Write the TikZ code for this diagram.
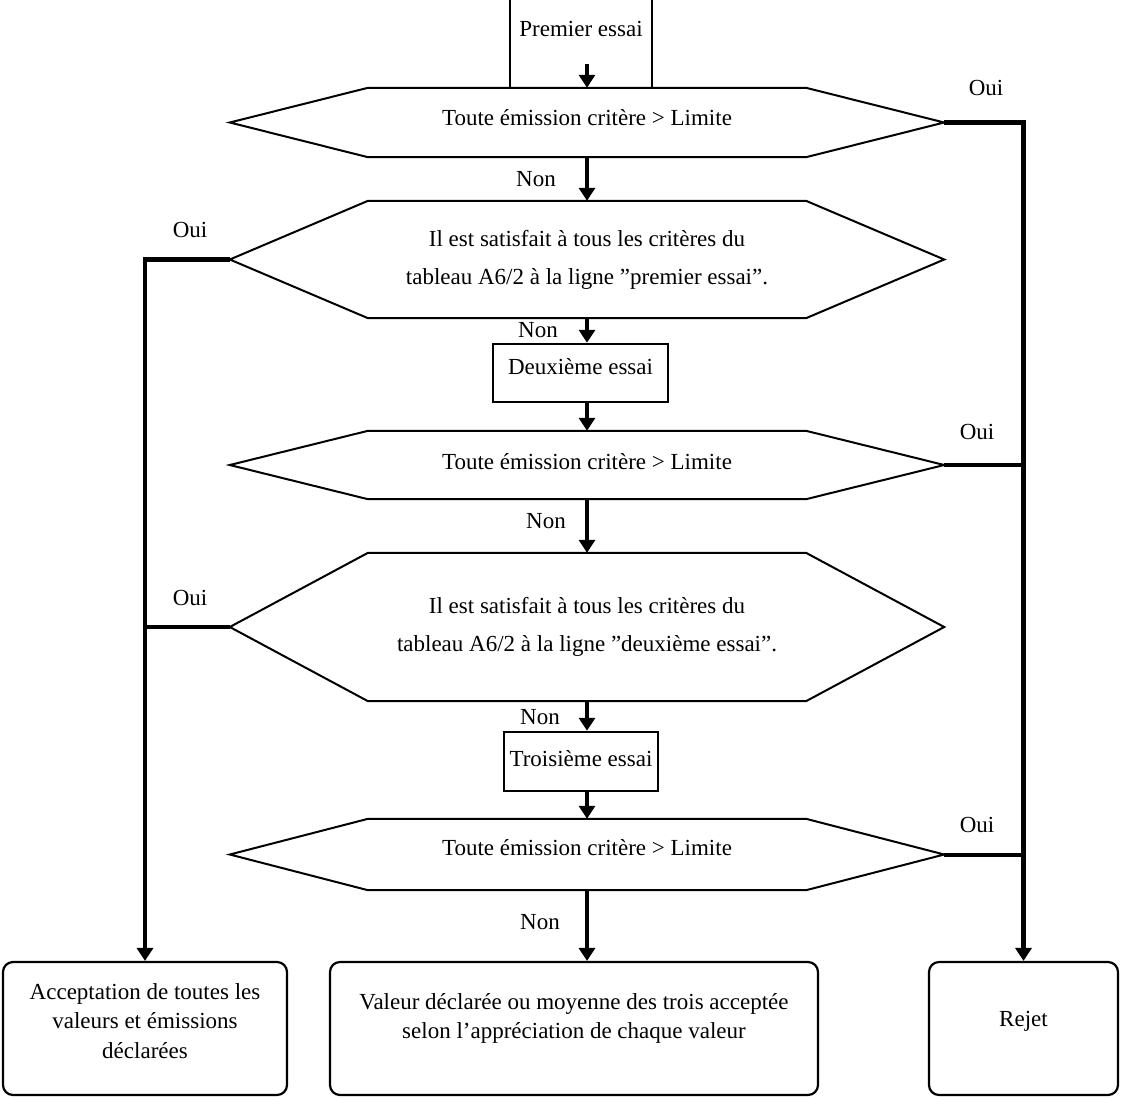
\documentclass[tikz,border=0pt]{standalone}
\usepackage{fontspec}
\setmainfont{Liberation Serif}
\usetikzlibrary{arrows.meta,calc}
\tikzset{
  x=1pt, y=-1pt,
  txt/.style={font=\fontsize{23}{38}\selectfont},
  hexbody/.style={txt, minimum width=714pt, inner sep=0pt, align=center},
  hexline/.style={line width=2pt, line join=miter},
  boxnode/.style={txt, draw, line width=2.5pt, inner xsep=0pt, inner ysep=0pt},
  endbox/.style={draw, line width=2.2pt, rounded corners=10pt, inner sep=0pt},
  endtext/.style={font=\fontsize{23}{29.5}\selectfont, align=center, inner sep=0pt},
  flow/.style={line width=4.5pt, line join=miter, -{Triangle[width=16pt,length=13pt]}},
  branch/.style={line width=4pt},
  lbl/.style={txt, inner sep=0pt},
}
\newcommand\hexa[5][]{%
  \node[hexbody, minimum height=#4pt, #1] (#2) at (#3) {#5};
  \draw[hexline] (#2.west) -- ($(#2.north)+(-219,0)$) -- ($(#2.north)+(219,0)$)
    -- (#2.east) -- ($(#2.south)+(219,0)$) -- ($(#2.south)+(-219,0)$) -- cycle;
}
\begin{document}
\begin{tikzpicture}
\useasboundingbox (0,0) rectangle (1123,1098);
\clip (0,0) rectangle (1123,1098);

% process boxes
\node[boxnode, minimum width=142pt, text height=58pt, text depth=52pt, anchor=base] (p1) at (581,36) {Premier essai};
\node[boxnode, minimum width=175pt, text height=30pt, text depth=28pt, anchor=base] (d2) at (580.5,374) {Deuxième essai};
\node[boxnode, minimum width=154pt, text height=34pt, text depth=25pt, anchor=base] (t3) at (581,766) {Troisième essai};

% decisions
\hexa[text depth=11pt]{h1}{587,122.5}{69}{Toute émission critère > Limite}
\hexa{h2}{587,259.5}{117}{Il est satisfait à tous les critères du\\tableau A6/2 à la ligne ”premier essai”.}
\hexa[text depth=8pt]{h3}{587,465}{68}{Toute émission critère > Limite}
\hexa{h4}{587,627}{148}{Il est satisfait à tous les critères du\\tableau A6/2 à la ligne ”deuxième essai”.}
\hexa[text depth=14pt]{h5}{587,854.5}{71}{Toute émission critère > Limite}

% end boxes
\node[endbox, minimum width=284pt, minimum height=133pt,
  label={[endtext, yshift=7.5pt]center:{Acceptation de toutes les\\valeurs et émissions\\déclarées}}] (acc) at (145,1028.5) {};
\node[endbox, minimum width=488pt, minimum height=133pt,
  label={[endtext, yshift=10pt]center:{Valeur déclarée ou moyenne des trois acceptée\\selon l’appréciation de chaque valeur}}] (mid) at (574,1028.5) {};
\node[endbox, minimum width=189pt, minimum height=133pt,
  label={[endtext, yshift=7.5pt]center:{Rejet}}] (rej) at (1023.5,1028.5) {};

% main flow
\coordinate (s1) at (587,64);
\draw[flow] (s1) -- (h1.north);
\draw[flow] (h1.south) -- (h2.north);
\draw[flow] (h2.south) -- (h2.south |- d2.north);
\draw[flow] (d2.south -| h2.south) -- (h3.north);
\draw[flow] (h3.south) -- (h4.north);
\draw[flow] (h4.south) -- (h4.south |- t3.north);
\draw[flow] (t3.south -| h4.south) -- (h5.north);
\draw[flow] (h5.south) -- (h5.south |- mid.north);

% Oui branches
\draw[flow] (h1.east) -| (rej.north);
\draw[branch] (h3.east) -- (h3.east -| rej.north);
\draw[branch] (h5.east) -- (h5.east -| rej.north);
\draw[flow] (h2.west) -| (acc.north);
\draw[branch] (h4.west) -- (h4.west -| acc.north);

% labels
\node[lbl] (o1) at (986,88) {Oui};
\node[lbl] (o3) at (977,432) {Oui};
\node[lbl] (o5) at (977,825) {Oui};
\node[lbl] (o2) at (190,230) {Oui};
\node[lbl] (o4) at (190,598) {Oui};
\node[lbl] (n1) at (536,179) {Non};
\node[lbl] (n2) at (538,330) {Non};
\node[lbl] (n3) at (546,521) {Non};
\node[lbl] (n4) at (540,717) {Non};
\node[lbl] (n5) at (540,922) {Non};
\end{tikzpicture}
\end{document}
